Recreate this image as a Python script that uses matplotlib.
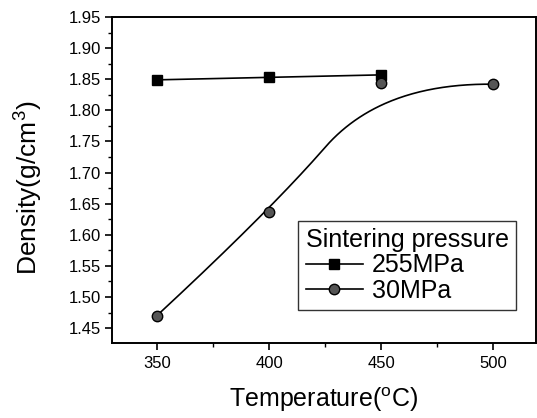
import numpy as np
import matplotlib
matplotlib.use('Agg')
import matplotlib.pyplot as plt

plt.rcParams['font.family'] = ['Liberation Sans', 'DejaVu Sans']
plt.rcParams['mathtext.fontset'] = 'custom'
plt.rcParams['mathtext.rm'] = 'Liberation Sans'
plt.rcParams['mathtext.it'] = 'Liberation Sans:italic'

# data
temp_255 = [350, 400, 450]
dens_255 = [1.849, 1.853, 1.857]
temp_30 = [350, 400, 450, 500]
dens_30 = [1.470, 1.637, 1.844, 1.842]


def bspline2(px, py, n=300):
    # clamped quadratic B-spline with the points as control points
    px, py = np.asarray(px, float), np.asarray(py, float)
    k = len(px)
    knots = np.concatenate([[0, 0], np.linspace(0, 1, k - 1), [1, 1]])
    t = np.linspace(0, 1 - 1e-9, n)

    def basis(i, p, t):
        if p == 0:
            return ((knots[i] <= t) & (t < knots[i + 1])).astype(float)
        out = np.zeros_like(t)
        d1 = knots[i + p] - knots[i]
        d2 = knots[i + p + 1] - knots[i + 1]
        if d1 > 0:
            out += (t - knots[i]) / d1 * basis(i, p - 1, t)
        if d2 > 0:
            out += (knots[i + p + 1] - t) / d2 * basis(i + 1, p - 1, t)
        return out
    B = np.array([basis(i, 2, t) for i in range(k)])
    return B.T @ px, B.T @ py


fig = plt.figure(figsize=(5.37, 4.18), dpi=100)
ax = fig.add_axes([0.2086, 0.1794, 0.7894, 0.7799])

ax.plot(temp_255, dens_255, color='black', linewidth=1.2, marker='s',
        markersize=7, markerfacecolor='black', markeredgecolor='black',
        label='255MPa')

cx, cy = bspline2(temp_30, dens_30)
ax.plot(cx, cy, color='black', linewidth=1.2)
ax.plot(temp_30, dens_30, linestyle='none', marker='o', markersize=7.5,
        markerfacecolor='#555555', markeredgecolor='black', markeredgewidth=1)
# legend proxy for the 30MPa series
ax.plot([], [], color='black', linewidth=1.2, marker='o', markersize=7.5,
        markerfacecolor='#555555', markeredgecolor='black', label='30MPa')

ax.set_xlim(330, 519)
ax.set_ylim(1.426, 1.95)
ax.set_xticks([350, 400, 450, 500])
ax.set_xticks([375, 425, 475], minor=True)
ax.set_yticks(np.arange(1.45, 1.951, 0.05))
ax.set_yticks(np.arange(1.475, 1.95, 0.05), minor=True)
ax.set_yticklabels([f'{v:.2f}' for v in np.arange(1.45, 1.951, 0.05)])

ax.tick_params(which='major', direction='out', length=5, width=1.2,
               labelsize=12, pad=3)
ax.tick_params(which='minor', direction='out', length=3, width=1.0)
ax.tick_params(axis='x', pad=4)
for s in ax.spines.values():
    s.set_linewidth(1.4)

ax.set_xlabel('Temperature($^{\\rm o}$C)', fontsize=18, labelpad=11)
ax.set_ylabel('Density(g/cm$^{3}$)', fontsize=19)
ax.yaxis.set_label_coords(-0.158, 0.475)

leg = ax.legend(title='Sintering pressure', loc='lower left',
                bbox_to_anchor=(0.439, 0.101), borderaxespad=0,
                fontsize=18, title_fontsize=18, frameon=True, fancybox=False,
                handlelength=2.3, handletextpad=0.35, borderpad=0.3,
                labelspacing=0.05, alignment='left')
leg.get_frame().set_edgecolor('black')
leg.get_frame().set_linewidth(1.0)

fig.savefig('out.png', dpi=100)
